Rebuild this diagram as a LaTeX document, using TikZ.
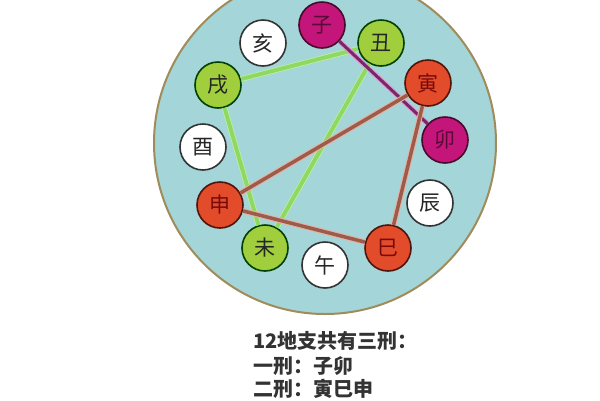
\documentclass[tikz,border=0pt]{standalone}
\usepackage{fontspec}
\setmainfont{Noto Sans CJK SC}
\newfontfamily\cjk{Noto Sans CJK SC}
\begin{document}
\begin{tikzpicture}[x=1pt,y=-1pt,
  zhi/.style={circle,minimum size=46pt,inner sep=0pt,line width=1.6pt,font=\cjk\fontsize{21}{21}\selectfont},
  wnode/.style={zhi,draw=black!80,fill=white,text=black!85},
  gnode/.style={zhi,draw=green!25!black,fill={rgb,255:red,160;green,206;blue,60},text=black!85},
  rnode/.style={zhi,draw={rgb,255:red,80;green,20;blue,10},fill={rgb,255:red,226;green,76;blue,42},text={rgb,255:red,120;green,10;blue,10}},
  mnode/.style={zhi,draw={rgb,255:red,70;green,10;blue,40},fill={rgb,255:red,196;green,22;blue,122},text={rgb,255:red,90;green,10;blue,55}},
  gline/.style={line width=4pt,draw={rgb,255:red,140;green,218;blue,100},preaction={draw={rgb,255:red,200;green,236;blue,160},line width=5.5pt}},
  rline/.style={line width=3.5pt,draw={rgb,255:red,156;green,92;blue,76},preaction={draw={rgb,255:red,236;green,176;blue,160},line width=5.5pt}},
  mline/.style={line width=3pt,draw={rgb,255:red,120;green,40;blue,105},preaction={draw={rgb,255:red,228;green,150;blue,210},line width=5pt}},
  caption/.style={anchor=west,inner sep=0pt,text=black!80,font=\cjk\bfseries\fontsize{20}{20}\selectfont}
]
\useasboundingbox (0,0) rectangle (600,400);
\fill[white] (0,0) rectangle (600,400);
\begin{scope}
\clip (0,0) rectangle (600,400);
\draw[line width=2pt,draw={rgb,255:red,160;green,140;blue,90},fill={rgb,255:red,163;green,213;blue,217}] (325,143) circle (171);
\end{scope}
% nodes
\node[mnode] (zi)   at (322,25)  {子};
\node[gnode] (chou) at (381,43)  {丑};
\node[rnode] (yin)  at (428,83)  {寅};
\node[mnode] (mao)  at (445,140) {卯};
\node[wnode] (chen) at (430,203) {辰};
\node[rnode] (si)   at (388,248) {巳};
\node[wnode] (wu)   at (325,265) {午};
\node[gnode] (wei)  at (265,248) {未};
\node[rnode] (shen) at (220,205) {申};
\node[wnode] (you)  at (203,147) {酉};
\node[gnode] (xu)   at (218,85)  {戌};
\node[wnode] (hai)  at (263,43)  {亥};
% connectors
\draw[gline] (chou) -- (xu);
\draw[gline] (xu) -- (wei);
\draw[gline] (chou) -- (wei);
\draw[mline] (zi) -- (mao);
\draw[rline] (yin) -- (shen);
\draw[rline] (shen) -- (si);
\draw[rline] (si) -- (yin);
% captions
\node[caption] (t1) at (253,341) {12地支共有三刑：};
\node[caption] (t2) at (253,366) {一刑：子卯};
\node[caption] (t3) at (253,389) {二刑：寅巳申};
\end{tikzpicture}
\end{document}
